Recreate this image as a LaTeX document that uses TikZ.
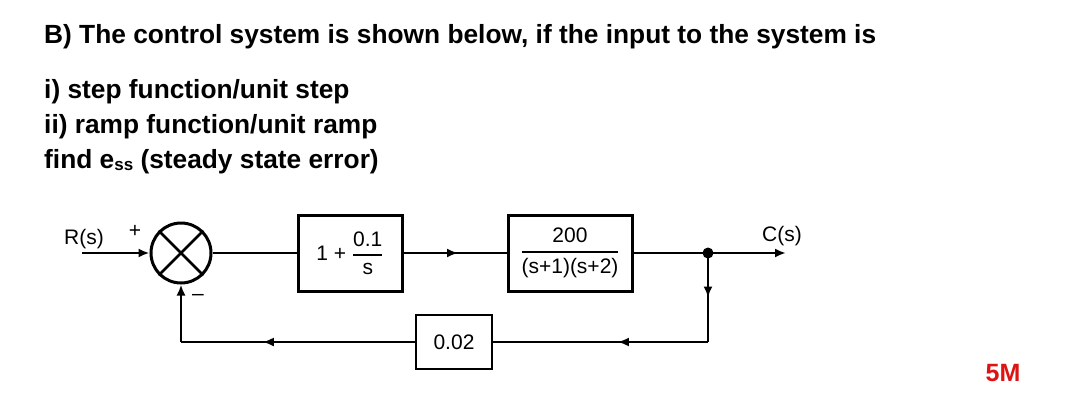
\documentclass[tikz,border=0pt]{standalone}
\usepackage{amsmath}
\usepackage{fontspec}
\setmainfont{Liberation Sans}
\usetikzlibrary{arrows.meta, positioning, decorations.markings}

\begin{document}
\begin{tikzpicture}[
    x=1pt, y=-1pt,
    every node/.style={font=\fontsize{21}{24}\selectfont},
    heading/.style={font=\fontsize{26.3}{30}\selectfont\bfseries, anchor=base west, inner sep=0pt},
    block/.style={draw, line width=3pt, minimum width=104pt, minimum height=76pt, inner sep=2pt},
    sig/.style={line width=2.2pt},
    tip/.style={-{Latex[length=11pt, width=9pt]}},
    midtip/.style={postaction={decorate}, decoration={markings,
        mark=at position #1 with {\arrow{Latex[length=11pt, width=9pt]}}}}
]
\useasboundingbox (0,0) rectangle (1082,418);

% === QUESTION TEXT ===
\node[heading] (q) at (44, 43) {B) The control system is shown below, if the input to the system is};
\node[heading] (q1) at (44, 98) {i) step function/unit step};
\node[heading] (q2) at (44, 133) {ii) ramp function/unit ramp};
\node[heading] (q3) at (44, 168) {find e\raisebox{-2pt}{\fontsize{17}{17}\selectfont ss} (steady state error)};

% === BLOCKS ===
\node[draw, circle, line width=3pt, minimum size=60pt] (sum) at (181, 253) {};
\draw[line width=2.6pt] (sum.45) -- (sum.225) (sum.135) -- (sum.315);
\node[block] (ctrl) at (350, 253) {1 + $\displaystyle{\text{0.1}\above 1.8pt\text{s}}$};
\node[block, minimum width=124pt] (plant) at (570, 253) {$\displaystyle{\text{200}\above 1.8pt\text{(s+1)(s+2)}}$};
\node[draw, line width=2.6pt, minimum width=76pt, minimum height=54pt] (fb) at (454, 342) {0.02};

% === COORDINATES ===
\coordinate (in) at (82, 253);
\coordinate (junc) at (708, 253);
\coordinate (out) at (786, 253);
\coordinate (rc) at (junc |- fb);
\coordinate (lc) at (sum.south |- fb);

% === SIGNAL LINES ===
\draw[sig, tip] (in) -- (sum);
\draw[sig] (sum) -- (ctrl);
\draw[sig, midtip=0.53] (ctrl) -- (plant);
\draw[sig, tip] (plant) -- (out);
\fill (junc) circle (5.5pt);
\draw[sig, midtip=0.5] (junc) -- (rc);
\draw[sig, midtip=0.42] (rc) -- (fb);
\draw[sig, midtip=0.65] (fb) -- (lc);
\draw[sig, tip] (lc) -- (sum);

% === LABELS ===
\node (R) at (84, 239) {R(s)};
\node (plus) at (135, 231) {+};
\node (minus) at (198, 297) {--};
\node (C) at (782, 236) {C(s)};
\node[text={rgb,255:red,220;green,20;blue,20}, font=\fontsize{25}{28}\selectfont\bfseries] (marks) at (1003, 373) {5M};

\end{tikzpicture}
\end{document}
